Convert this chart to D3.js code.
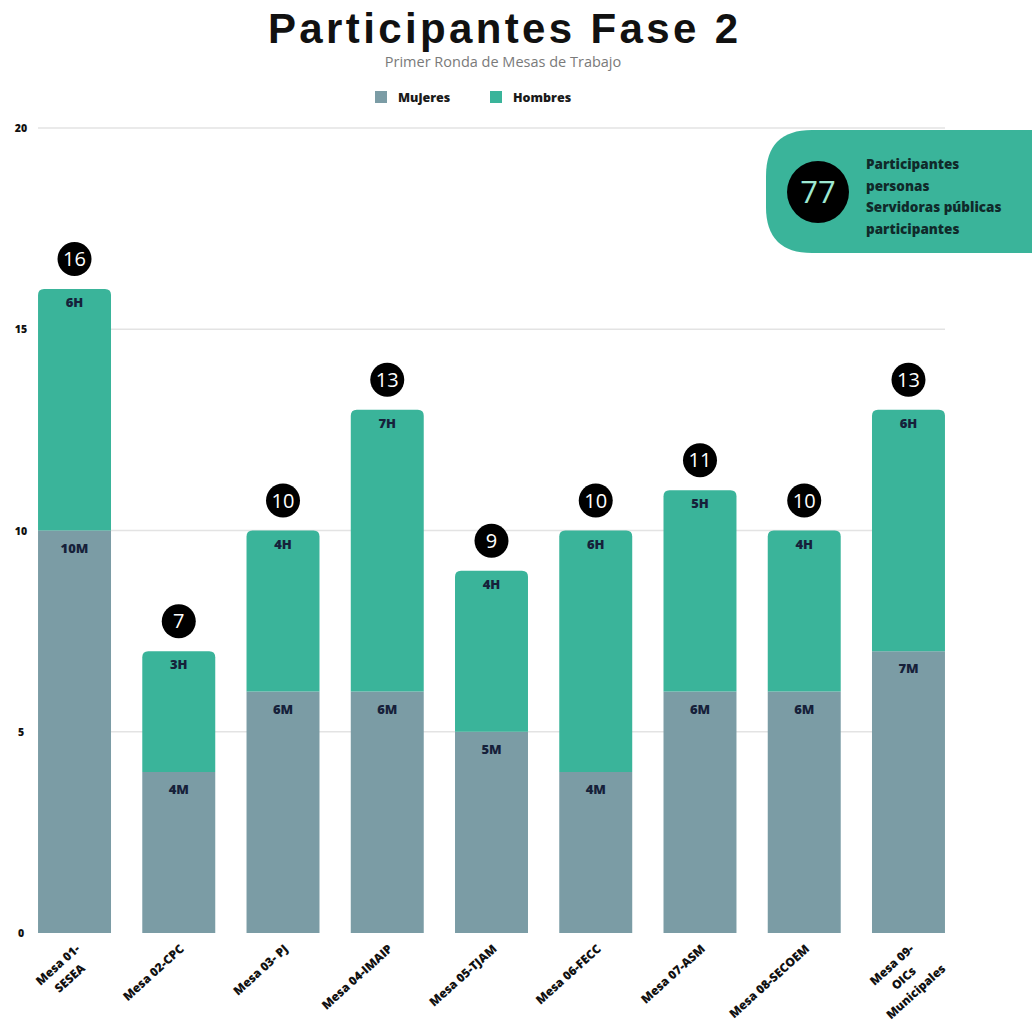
<!DOCTYPE html>
<html>
<head>
<meta charset="utf-8">
<script src="https://d3js.org/d3.v7.min.js"></script>
<style>
  body { margin: 0; background: #fff; }
  svg { display: block; font-family: "Open Sans", "Noto Sans", sans-serif; }
</style>
</head>
<body>
<div id="chart"></div>
<script>
// Chart data
const mesas = [
  ["Mesa 01-", "SESEA"],
  ["Mesa 02-CPC"],
  ["Mesa 03- PJ"],
  ["Mesa 04-IMAIP"],
  ["Mesa 05-TJAM"],
  ["Mesa 06-FECC"],
  ["Mesa 07-ASM"],
  ["Mesa 08-SECOEM"],
  ["Mesa 09-", "OICs", "Municipales"]
];
const mujeres = [10, 4, 6, 6, 5, 4, 6, 6, 7];
const hombres = [6, 3, 4, 7, 4, 6, 5, 4, 6];
const yTicks = [0, 5, 10, 15, 20];
const seriesNames = ["Mujeres", "Hombres"];
const colors = ["#7b9ca5", "#3ab49a"];
const badgeNumber = "77";
const badgeLines = ["Participantes", "personas", "Servidoras públicas", "participantes"];

const width = 1032, height = 1033;
const svg = d3.select('#chart').append('svg')
  .attr('width', width).attr('height', height);

// Scales
const x = d3.scaleBand()
  .domain(d3.range(mesas.length))
  .range([22.4, 960.6])
  .paddingInner(0.3)
  .paddingOuter(0.15);
const y = d3.scaleLinear().domain([0, 20]).range([933, 128]);

// Title
const title = svg.append('text')
  .attr('x', 503).attr('y', 43)
  .attr('text-anchor', 'middle')
  .attr('font-family', '"Liberation Sans", Arial, sans-serif')
  .attr('font-weight', 'bold')
  .attr('font-size', 42)
  .attr('fill', '#111')
  .text('Participantes Fase 2');
title.attr('textLength', 470).attr('lengthAdjust', 'spacing');

svg.append('text')
  .attr('x', 503).attr('y', 67)
  .attr('text-anchor', 'middle')
  .attr('font-size', 14.5)
  .attr('fill', '#7a7a7a')
  .text('Primer Ronda de Mesas de Trabajo');

// Legend
const legendX = [375, 490];
seriesNames.forEach((name, i) => {
  svg.append('rect')
    .attr('x', legendX[i]).attr('y', 91)
    .attr('width', 12).attr('height', 12)
    .attr('fill', colors[i]);
  svg.append('text')
    .attr('x', legendX[i] + 23).attr('y', 102)
    .attr('font-size', 12.5).attr('font-weight', 800)
    .attr('fill', '#1a1a1a')
    .text(name);
});

// Grid + y labels
svg.append('g').selectAll('line')
  .data(yTicks.filter(d => d > 0))
  .join('line')
  .attr('x1', 38).attr('x2', 945)
  .attr('y1', d => y(d)).attr('y2', d => y(d))
  .attr('stroke', '#e3e3e3').attr('stroke-width', 1.5);

svg.append('g').selectAll('text')
  .data(yTicks)
  .join('text')
  .attr('x', 21).attr('y', d => y(d) + 4)
  .attr('text-anchor', 'middle')
  .attr('font-size', 10.5).attr('font-weight', 800)
  .attr('fill', '#111')
  .text(d => d);

// Bars
const bw = x.bandwidth();
const r = 6;
function topRounded(x0, y0, w, h, rad) {
  return `M${x0},${y0 + h}V${y0 + rad}Q${x0},${y0} ${x0 + rad},${y0}H${x0 + w - rad}Q${x0 + w},${y0} ${x0 + w},${y0 + rad}V${y0 + h}Z`;
}

const bars = svg.append('g');
mesas.forEach((m, i) => {
  const x0 = x(i);
  const cx = x0 + bw / 2;
  const m0 = y(mujeres[i]);
  const total = mujeres[i] + hombres[i];
  const t = y(total);
  // mujeres
  bars.append('rect')
    .attr('x', x0).attr('y', m0)
    .attr('width', bw).attr('height', y(0) - m0)
    .attr('fill', colors[0]);
  // hombres
  bars.append('path')
    .attr('d', topRounded(x0, t, bw, m0 - t, r))
    .attr('fill', colors[1]);
  // segment labels
  bars.append('text')
    .attr('x', cx).attr('y', t + 18)
    .attr('text-anchor', 'middle')
    .attr('font-size', 13).attr('font-weight', 800)
    .attr('fill', '#16213a')
    .text(hombres[i] + 'H');
  bars.append('text')
    .attr('x', cx).attr('y', m0 + 22)
    .attr('text-anchor', 'middle')
    .attr('font-size', 13).attr('font-weight', 800)
    .attr('fill', '#16213a')
    .text(mujeres[i] + 'M');
  // total circle
  bars.append('circle')
    .attr('cx', cx).attr('cy', t - 30).attr('r', 17)
    .attr('fill', '#000');
  bars.append('text')
    .attr('x', cx).attr('y', t - 23)
    .attr('text-anchor', 'middle')
    .attr('font-size', 20).attr('font-weight', 500)
    .attr('fill', '#fff')
    .text(total);
});

// X labels (rotated)
const xl = svg.append('g');
mesas.forEach((lines, i) => {
  const cx = x(i) + bw / 2;
  const g = xl.append('g')
    .attr('transform', `translate(${cx + 6},${950}) rotate(-42)`);
  const texts = lines.map((ln, k) => g.append('text')
    .attr('y', k * 18)
    .attr('font-size', 12).attr('font-weight', 800)
    .attr('fill', '#111')
    .text(ln));
  const w0 = texts[0].node().getComputedTextLength();
  const c = -w0 / 2;
  texts.forEach(t => t.attr('x', c).attr('text-anchor', 'middle'));
});

// Badge
svg.append('path')
  .attr('d', 'M1040,130H812Q766,130 766,176V207Q766,253 812,253H1040Z')
  .attr('fill', colors[1]);
svg.append('circle')
  .attr('cx', 818).attr('cy', 192).attr('r', 31)
  .attr('fill', '#000');
svg.append('text')
  .attr('x', 818).attr('y', 203)
  .attr('text-anchor', 'middle')
  .attr('font-size', 31)
  .attr('fill', '#9de8d2')
  .text(badgeNumber);
svg.append('g').selectAll('text')
  .data(badgeLines)
  .join('text')
  .attr('x', 866).attr('y', (d, i) => 169 + i * 21.5)
  .attr('font-size', 13.5).attr('font-weight', 800)
  .attr('fill', '#102a2a')
  .text(d => d);
</script>
</body>
</html>
